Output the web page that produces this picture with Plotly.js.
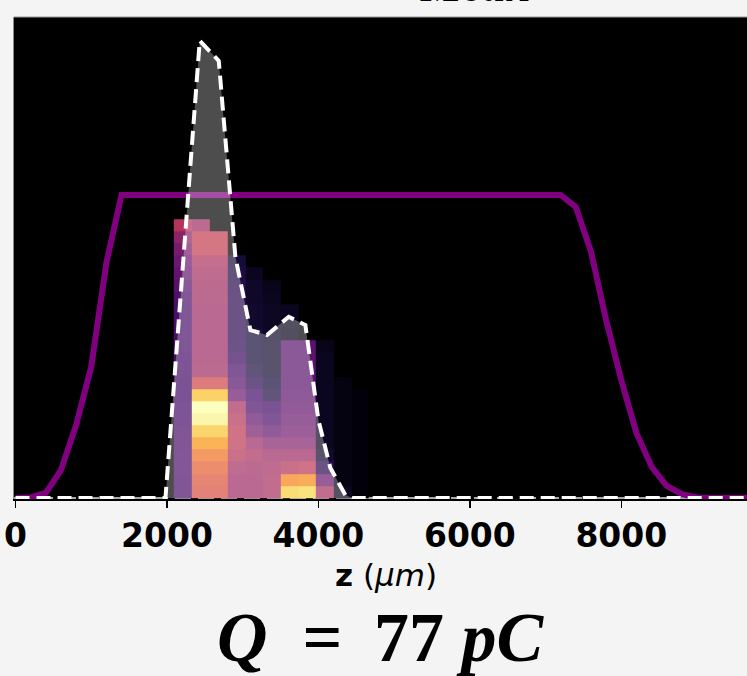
<!DOCTYPE html>
<html>
<head>
<meta charset="utf-8">
<script src="https://cdn.plot.ly/plotly-3.0.1.min.js"></script>
<style>html,body{margin:0;padding:0;background:#f4f4f4;}#chart{width:747px;height:676px;}</style>
</head>
<body>
<div id="chart"></div>
<script>
// ---------- data ----------
// longitudinal position z (um) of the laser / drive profile (purple line)
const laserZ = [0, 200, 400, 600, 800, 1000, 1200, 1400, 7200, 7400, 7600, 7800, 8000, 8200, 8400, 8600, 8800, 9000, 9200, 9800];
const laserY = [0, 0.002, 0.017, 0.092, 0.24, 0.433, 0.776, 1.0, 1.0, 0.96, 0.813, 0.587, 0.389, 0.215, 0.103, 0.04, 0.013, 0.002, 0, 0];

// bunch current profile (white dashed, grey fill)
const profZ = [0, 1980, 2433, 2684, 2904, 3102, 3322, 3608, 3828, 4000, 4158, 4356, 4450, 9800];
const profY = [0, 0, 1.509, 1.443, 0.795, 0.554, 0.538, 0.598, 0.571, 0.257, 0.099, 0.010, 0, 0];

// 2D histogram bins: z bin edges (um) and vertical bin edges
const binZ = [2090, 2325, 2560, 2800, 3035, 3270, 3500, 3735, 3965, 4200, 4435, 4670];
const binY = [0, 0.04, 0.08, 0.12, 0.16, 0.20, 0.24, 0.28, 0.32, 0.36, 0.40, 0.44, 0.48,
              0.52, 0.56, 0.60, 0.64, 0.68, 0.72, 0.76, 0.80, 0.84, 0.88, 0.92];

// density per z-bin column (bottom row first), normalised 0..1
const col0 = [0.22,0.22,0.23,0.23,0.22,0.22,0.21,0.21,0.2,0.2,0.21,0.21,0.22,0.22,0.22,0.22,0.23,0.25,0.28,0.3,0.33,0.38,0.48];
const col1 = [0.58,0.6,0.63,0.68,0.76,0.86,0.97,1.0,0.85,0.55,0.43,0.42,0.42,0.42,0.42,0.42,0.43,0.43,0.44,0.46,0.52,0.52,0.43];
const col2 = [0.58,0.6,0.63,0.68,0.76,0.86,0.97,1.0,0.85,0.55,0.43,0.42,0.42,0.42,0.42,0.42,0.43,0.43,0.44,0.46,0.52,0.52,null];
const col3 = [0.42,0.42,0.44,0.48,0.5,0.5,0.48,0.45,0.3,0.25,0.22,0.18,0.16,0.15,0.15,0.15,0.15,0.14,0.12,0.1,null,null,null];
const col4 = [0.42,0.42,0.43,0.45,0.42,0.33,0.28,0.22,0.2,0.15,0.12,0.1,0.1,0.1,0.08,0.08,0.07,0.07,0.05,null,null,null,null];
const col5 = [0.45,0.45,0.44,0.42,0.36,0.28,0.22,0.2,0.12,0.1,0.08,0.08,0.08,0.07,0.06,0.06,0.05,0.04,null,null,null,null,null];
const col6 = [0.88,0.72,0.48,0.42,0.36,0.32,0.3,0.28,0.27,0.26,0.26,0.26,0.26,0.04,0.05,0.05,null,null,null,null,null,null,null];
const col7 = [0.9,0.74,0.5,0.42,0.36,0.32,0.3,0.28,0.27,0.26,0.26,0.26,0.26,null,null,null,null,null,null,null,null,null,null];
const col8 = [0.45,0.3,0.15,0.08,0.05,0.05,0.05,0.05,0.05,0.05,0.05,0.05,0.04,null,null,null,null,null,null,null,null,null,null];
const col9 = [0.05,0.025,0.025,0.025,0.025,0.025,0.025,0.025,0.025,0.025,null,null,null,null,null,null,null,null,null,null,null,null,null];
const col10 = [0.01,0.01,0.01,0.01,0.01,0.01,0.01,0.01,0.01,null,null,null,null,null,null,null,null,null,null,null,null,null,null];

const tickVals = [0, 2000, 4000, 6000, 8000];
const tickText = ['0', '2000', '4000', '6000', '8000'];
const chargeLabel = '<b><i>Q</i>&#8194;= &#8201;77 <i>pC</i></b>';
const topLabel = '<b><i>Mean</i></b>';
const xTitle = '<b>z</b> (<i>μm</i>)';

// ---------- build ----------
const columns = [col0, col1, col2, col3, col4, col5, col6, col7, col8, col9, col10];
const zMatrix = binY.slice(0, -1).map((_, r) => columns.map(c => c[r]));

const inferno = [
  [0.0, '#000004'], [0.1, '#160b39'], [0.2, '#420a68'], [0.3, '#6a176e'],
  [0.4, '#932667'], [0.5, '#bc3754'], [0.6, '#dd513a'], [0.7, '#f37819'],
  [0.8, '#fca50a'], [0.9, '#f6d746'], [1.0, '#fcffa4']
];

const traces = [
  {type: 'heatmap', x: binZ, y: binY, z: zMatrix, colorscale: inferno,
   zmin: 0, zmax: 1, showscale: false, hoverinfo: 'skip'},
  {type: 'scatter', mode: 'lines', x: laserZ, y: laserY,
   line: {color: '#800080', width: 6}, hoverinfo: 'skip'},
  {type: 'scatter', mode: 'lines', x: profZ, y: profY, fill: 'tozeroy',
   fillcolor: 'rgba(255,255,255,0.3)', line: {width: 0}, hoverinfo: 'skip'},
  {type: 'scatter', mode: 'lines', x: profZ, y: profY,
   line: {color: '#ffffff', width: 4, dash: '14px,7px'}, hoverinfo: 'skip'}
];

const plotTop = 17, plotBottom = 499, H = 676, W = 747, L = 14;
const py = p => (plotBottom - p) / (plotBottom - plotTop);
const px = p => (p - L) / (W - L);

const layout = {
  width: W, height: H,
  margin: {l: L, r: 0, t: plotTop, b: H - plotBottom, pad: 0},
  paper_bgcolor: '#f4f4f4', plot_bgcolor: '#000000',
  showlegend: false,
  xaxis: {range: [-20, 9660], tickmode: 'array', tickvals: tickVals, ticktext: tickText,
          ticks: 'outside', ticklen: 7, tickwidth: 1.5, tickcolor: '#000',
          showline: true, linecolor: '#000', linewidth: 1.5, showgrid: false, zeroline: false,
          ticklabelstandoff: 0,
          tickfont: {family: 'DejaVu Sans', size: 33, weight: 'bold', color: '#000'}},
  yaxis: {range: [-0.0033, 1.5875], showticklabels: false, ticks: '', showgrid: false,
          zeroline: false, showline: true, linecolor: '#8a8a8a', linewidth: 1},
  shapes: [
    {type: 'line', xref: 'paper', yref: 'y', x0: 0, x1: 1, y0: 0, y1: 0, layer: 'below',
     line: {color: '#a8a8a8', width: 2, dash: '16px,7px'}},
    {type: 'line', xref: 'paper', yref: 'paper', x0: 0, x1: 1, y0: 1, y1: 1,
     line: {color: '#9a9a9a', width: 1}}
  ],
  annotations: [
    {text: xTitle, xref: 'paper', yref: 'paper', x: px(386), y: py(575),
     xanchor: 'center', yanchor: 'middle', showarrow: false,
     font: {family: 'DejaVu Sans', size: 31, color: '#000'}},
    {text: chargeLabel, xref: 'paper', yref: 'paper', x: px(380), y: py(638),
     xanchor: 'center', yanchor: 'middle', showarrow: false,
     font: {family: 'Liberation Serif', size: 70, color: '#000'}},
    {text: topLabel, xref: 'paper', yref: 'paper', x: px(475), y: py(13),
     xanchor: 'center', yanchor: 'bottom', showarrow: false,
     font: {family: 'Liberation Serif', size: 46, color: '#000'}}
  ]
};

Plotly.newPlot('chart', traces, layout, {displayModeBar: false, staticPlot: true});
</script>
</body>
</html>
